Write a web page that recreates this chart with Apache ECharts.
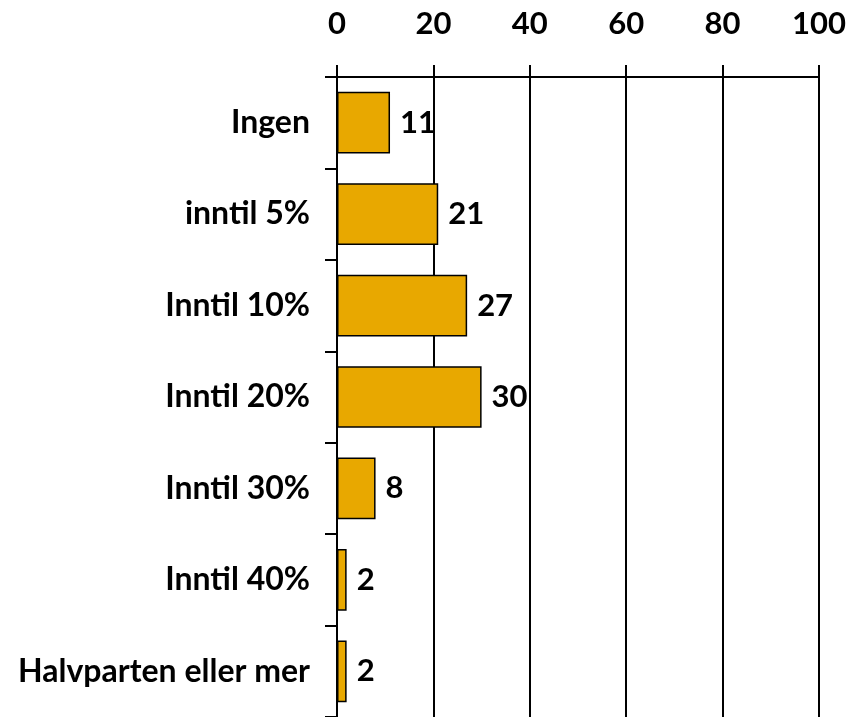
<!DOCTYPE html>
<html>
<head>
<meta charset="utf-8">
<script src="https://cdn.jsdelivr.net/npm/echarts@6/dist/echarts.min.js"></script>
<style>html,body{margin:0;padding:0;background:#fff}#c{width:850px;height:717px}</style>
</head>
<body>
<div id="c"></div>
<script>
const categories = ["Ingen", "inntil 5%", "Inntil 10%", "Inntil 20%", "Inntil 30%", "Inntil 40%", "Halvparten eller mer"];
const values = [11, 21, 27, 30, 8, 2, 2];
const xTicks = [0, 20, 40, 60, 80, 100];

const chart = echarts.init(document.getElementById('c'), null, {renderer: 'canvas'});
const font = 'Lato';
chart.setOption({
  animation: false,
  backgroundColor: '#fff',
  grid: {left: 337, right: 31, top: 77, height: 643, containLabel: false},
  xAxis: {
    type: 'value', position: 'top', min: xTicks[0], max: xTicks[xTicks.length - 1], interval: 20,
    axisLine: {show: true, lineStyle: {color: '#000', width: 2}},
    axisTick: {show: true, inside: false, length: 12, lineStyle: {color: '#000', width: 2}},
    splitLine: {show: true, lineStyle: {color: '#000', width: 2}},
    axisLabel: {margin: 38, fontFamily: font, fontWeight: 'bold', fontSize: 31, color: '#000'}
  },
  yAxis: {
    type: 'category', inverse: true, data: categories,
    axisLine: {show: true, lineStyle: {color: '#000', width: 2}},
    axisTick: {show: true, inside: false, length: 12, lineStyle: {color: '#000', width: 2}},
    axisLabel: {margin: 27, fontFamily: font, fontWeight: 'bold', fontSize: 32, color: '#000'}
  },
  series: [{
    type: 'bar', data: values, barCategoryGap: '32.5%',
    itemStyle: {color: '#E8A800', borderColor: '#000', borderWidth: 1.5},
    label: {show: true, position: 'right', distance: 10, fontFamily: font, fontWeight: 'bold', fontSize: 31, color: '#000'}
  }]
});
</script>
</body>
</html>
